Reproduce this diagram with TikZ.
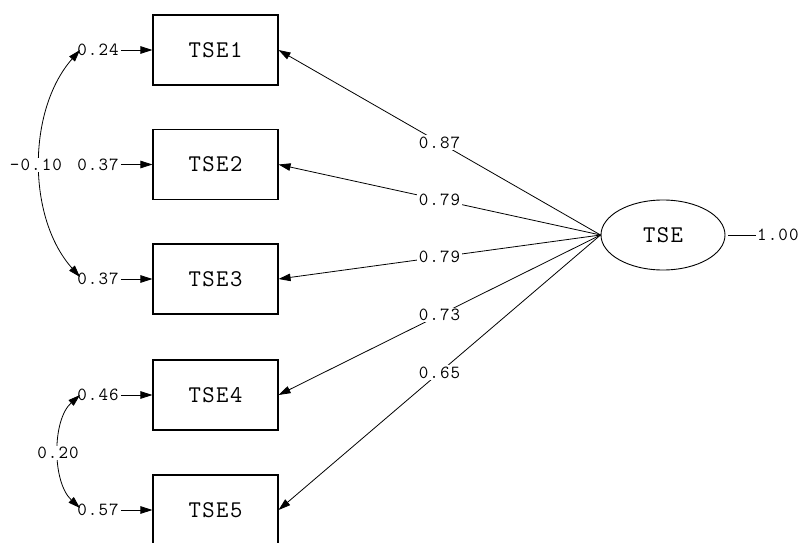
\documentclass[tikz,border=0pt]{standalone}
\usepackage{fontspec}
\newfontfamily\lmm[LetterSpace=6]{Latin Modern Mono}
\usetikzlibrary{shapes.geometric,arrows.meta}
\begin{document}
\begin{tikzpicture}[x=1pt,y=-1pt,
  obs/.style={draw,line width=1.1pt,minimum width=125pt,minimum height=70pt,inner sep=0pt,font=\lmm\fontsize{24}{25}\selectfont},
  lat/.style={draw,ellipse,line width=0.9pt,minimum width=124pt,minimum height=70pt,inner sep=0pt,font=\lmm\fontsize{24}{25}\selectfont},
  num/.style={font=\lmm\fontsize{18.5}{20}\selectfont,inner sep=2pt},
  numw/.style={num,fill=white,inner sep=1.5pt},
  arr/.style={-{Triangle[length=12pt,width=7.5pt]},line width=0.8pt},
  cov/.style={{Triangle[length=12pt,width=7.5pt]}-{Triangle[length=12pt,width=7.5pt]},line width=0.8pt}]
\useasboundingbox (0,0) rectangle (801,543);
\node[obs] (t1) at (215.5,50) {TSE1};
\node[obs] (t2) at (215.5,164.5) {TSE2};
\node[obs] (t3) at (215.5,279) {TSE3};
\node[obs] (t4) at (215.5,395) {TSE4};
\node[obs] (t5) at (215.5,510) {TSE5};
\node[lat] (f) at (663,235) {TSE};
% error variances
\node[num] (e1) at (98,50) {0.24};
\node[num] (e2) at (98,164.5) {0.37};
\node[num] (e3) at (98,279) {0.37};
\node[num] (e4) at (98,395) {0.46};
\node[num] (e5) at (98,510) {0.57};
\foreach \i in {1,...,5} \draw[arr] (e\i.east) -- (t\i.west);
% loadings
\draw[arr] (f.west) -- node[numw,pos=0.5] {0.87} (t1.east);
\draw[arr] (f.west) -- node[numw,pos=0.5] {0.79} (t2.east);
\draw[arr] (f.west) -- node[numw,pos=0.5] {0.79} (t3.east);
\draw[arr] (f.west) -- node[numw,pos=0.5] {0.73} (t4.east);
\draw[arr] (f.west) -- node[numw,pos=0.5] {0.65} (t5.east);
% factor variance
\node[num,anchor=west,inner sep=0pt] (fv) at (757,235) {1.00};
\draw[line width=0.8pt] ([xshift=3pt]f.east) -- ([xshift=-1pt]fv.west);
% covariances
\coordinate (c1a) at (80,50);
\coordinate (c1b) at (80,277);
\coordinate (c4a) at (80,395);
\coordinate (c4b) at (80,508);
\draw[cov] (c1a) .. controls (27,110) and (27,218) .. (c1b);
\node[numw] (k1) at (36,165) {-0.10};
\draw[cov] (c4a) .. controls (52,420) and (52,482) .. (c4b);
\node[numw] (k2) at (58,453) {0.20};
\end{tikzpicture}
\end{document}
